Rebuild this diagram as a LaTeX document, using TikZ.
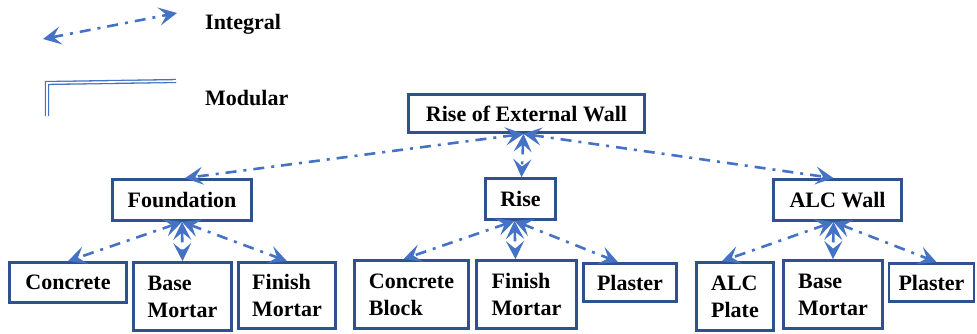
\documentclass[tikz,border=0pt]{standalone}
\usepackage{fontspec}
\setmainfont{Liberation Serif}
\usetikzlibrary{arrows.meta}
\definecolor{boxblue}{HTML}{2F528F}
\definecolor{linkblue}{HTML}{4472C4}

\begin{document}
\begin{tikzpicture}[x=1pt,y=-1pt,
  label text/.style={font=\fontsize{22}{27}\selectfont\bfseries, inner sep=0pt},
  box/.style={draw=boxblue, line width=2.8pt, fill=white, inner sep=0pt,
    font=\fontsize{22}{27}\selectfont\bfseries, align=left},
  tip/.tip={Stealth[length=18pt,width=18pt,inset=7.5pt]},
  integral/.style={draw=linkblue, line width=2.6pt,
    dash pattern=on 11pt off 7pt on 3pt off 7pt, tip-tip},
  modular/.style={draw=linkblue, line width=1.3pt, double=white, double distance=1.6pt}
]
\useasboundingbox (0,0) rectangle (977,333);

% legend
\coordinate (lgA) at (43,39);
\coordinate (lgB) at (177,13);
\draw[integral] (lgA) -- (lgB);
\node[label text, anchor=west] (lgInt) at (205,24) {Integral};

\coordinate (mdA) at (176,81);
\coordinate (mdB) at (47,83);
\coordinate (mdC) at (47,116);
\draw[modular] (mdA) -- (mdB) -- (mdC);
\node[label text, anchor=west] (lgMod) at (205,98) {Modular};

% top level
\node[box, minimum width=236pt, minimum height=38pt] (top) at (526.5,113.5) {Rise of External Wall};

% second level
\node[box, minimum width=139pt, minimum height=41pt] (found) at (182,200) {Foundation};
\node[box, minimum width=70pt, minimum height=41pt] (rise) at (520.5,199) {Rise};
\node[box, minimum width=128pt, minimum height=41pt] (alcw) at (837.5,200) {ALC Wall};

% third level
\node[box, minimum width=117pt, minimum height=40pt] (conc) at (68,282.5) {Concrete};
\node[box, minimum width=98pt, minimum height=68pt] (bm1) at (182.5,296.5) {Base\\Mortar};
\node[box, minimum width=97pt, minimum height=66pt] (fm1) at (287,295.5) {Finish\\Mortar};

\node[box, minimum width=114pt, minimum height=68pt] (cblk) at (411.5,294.5) {Concrete\\Block};
\node[box, minimum width=100pt, minimum height=68pt] (fm2) at (526.5,294.5) {Finish\\Mortar};
\node[box, minimum width=93pt, minimum height=38pt] (pl1) at (630,282.5) {Plaster};

\node[box, minimum width=77pt, minimum height=68pt] (alcp) at (735,296.5) {ALC\\Plate};
\node[box, minimum width=99pt, minimum height=68pt] (bm2) at (833,294.5) {Base\\Mortar};
\node[box, minimum width=85pt, minimum height=38pt] (pl2) at (931.5,282.5) {Plaster};

% integral links
\draw[integral] ([xshift=-3pt]top.south) -- ([xshift=3pt]found.north);
\draw[integral] ([xshift=-3pt]top.south) -- ([xshift=1pt]rise.north);
\draw[integral] ([xshift=-3pt]top.south) -- ([xshift=-4pt]alcw.north);

\draw[integral] (found.south) -- (conc.north);
\draw[integral] (found.south) -- (bm1.north);
\draw[integral] (found.south) -- (fm1.north);

\draw[integral] ([xshift=-6pt]rise.south) -- ([xshift=-8pt]cblk.north);
\draw[integral] ([xshift=-6pt]rise.south) -- ([xshift=-11pt]fm2.north);
\draw[integral] ([xshift=-6pt]rise.south) -- ([xshift=-12pt]pl1.north);

\draw[integral] ([xshift=-4pt]alcw.south) -- ([xshift=-13pt]alcp.north);
\draw[integral] ([xshift=-4pt]alcw.south) -- (bm2.north);
\draw[integral] ([xshift=-4pt]alcw.south) -- ([xshift=5pt]pl2.north);
\end{tikzpicture}
\end{document}
